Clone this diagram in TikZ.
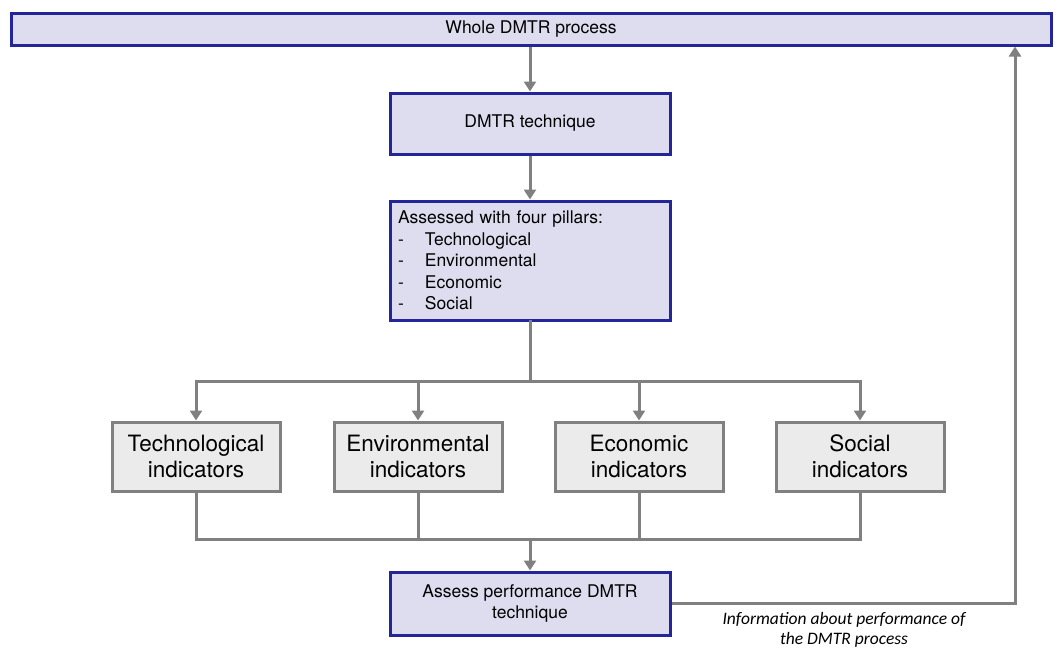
\documentclass[tikz,border=0pt]{standalone}
\usepackage{fontspec}
\setmainfont{TeX Gyre Heros}
\newfontfamily\labelfont{Carlito}
\usetikzlibrary{arrows.meta}
\definecolor{boxfill}{HTML}{DDDDEF}
\definecolor{boxline}{HTML}{25259A}
\definecolor{linegray}{HTML}{808080}
\definecolor{indfill}{HTML}{EBEBEB}
\begin{document}
\begin{tikzpicture}[x=1pt,y=-1pt,
  bluebox/.style={draw=boxline, fill=boxfill, line width=3pt, inner sep=0pt, align=center, font=\fontsize{17.5}{21.5}\selectfont},
  indbox/.style={draw=linegray, fill=indfill, line width=3pt, minimum width=168pt, minimum height=69pt, inner sep=0pt, align=center, font=\fontsize{22.5}{26}\selectfont},
  wire/.style={draw=linegray, line width=3pt, line cap=rect},
  arr/.style={draw=linegray, line width=3pt, -{Triangle[width=12pt,length=10pt]}}]
\useasboundingbox (0,0) rectangle (1057,648);

\node[bluebox, minimum width=1040pt, minimum height=32pt] (whole) at (531,29) {Whole DMTR process};
\node[bluebox, minimum width=280pt, minimum height=61pt] (tech) at (530,123.5) {DMTR technique};
\node[bluebox, minimum width=280pt, minimum height=119pt, text width=264pt, align=left] (pillars) at (530,260.5)
  {Assessed with four pillars:\\
   \makebox[27pt][l]{-}Technological\\
   \makebox[27pt][l]{-}Environmental\\
   \makebox[27pt][l]{-}Economic\\
   \makebox[27pt][l]{-}Social};

\node[indbox] (ind1) at (196,456.5) {Technological\\indicators};
\node[indbox] (ind2) at (418,456.5) {Environmental\\indicators};
\node[indbox] (ind3) at (639,456.5) {Economic\\indicators};
\node[indbox] (ind4) at (860,456.5) {Social\\indicators};

\node[bluebox, minimum width=280pt, minimum height=63pt] (assess) at (530,603.5) {Assess performance DMTR\\technique};

\coordinate (split) at (530,381);
\coordinate (join) at (530,539);
\coordinate (fb) at (1015,0);

\draw[arr] (whole.south -| tech.north) -- (tech.north);
\draw[arr] (tech) -- (pillars);
\draw[wire] (pillars.south) -- (split);
\draw[wire] (split -| ind1.north) -- (split -| ind4.north);
\foreach \i in {1,2,3,4}{
  \draw[arr] (split -| ind\i.north) -- (ind\i.north);
  \draw[wire] (ind\i.south) -- (join -| ind\i.south);
}
\draw[wire] (join -| ind1.south) -- (join -| ind4.south);
\draw[arr] (join) -- (assess.north);
\draw[arr] (assess.east) -- (assess.east -| fb) -- (whole.south -| fb);

\node[font=\labelfont\itshape\fontsize{17.5}{20}\selectfont, align=center] (info) at (844,630) {Information about performance of\\the DMTR process};
\end{tikzpicture}
\end{document}
